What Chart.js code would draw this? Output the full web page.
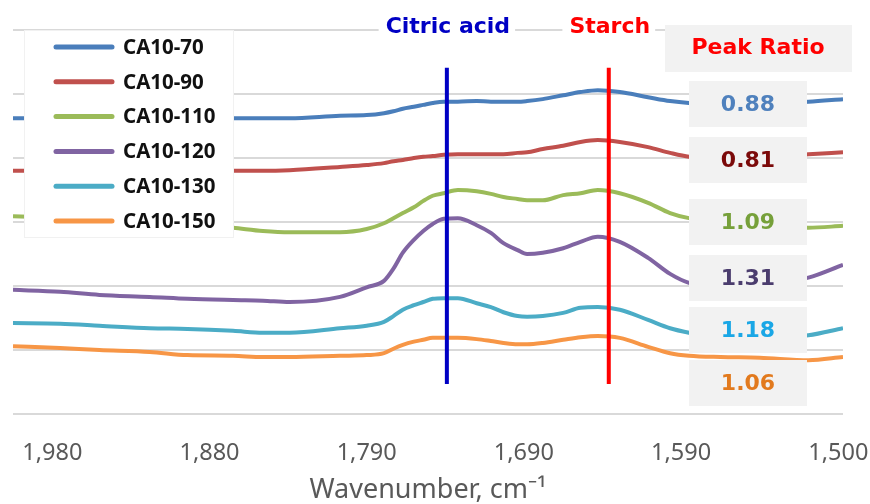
<!DOCTYPE html>
<html>
<head>
<meta charset="utf-8">
<script src="https://cdn.jsdelivr.net/npm/chart.js@4.4.0/dist/chart.umd.min.js"></script>
<style>
	html, body { margin: 0; padding: 0; background: #fff; }
	canvas { display: block; }
</style>
</head>
<body>
<canvas id="myChart" width="870" height="504"></canvas>
<script>
// x positions in tick units (0 = first labelled tick, 1 = next one ...)
let xTickLabels = ['1,980', '1,880', '1,790', '1,690', '1,590', '1,500']
let xPos = [-0.25, 0.05, 0.3, 0.62, 0.86, 1.15, 1.34, 1.51, 1.83, 2.0, 2.11, 2.17, 2.23, 2.3, 2.36, 2.42, 2.49, 2.58, 2.7, 2.79, 2.87, 2.96, 3.02, 3.12, 3.25, 3.36, 3.47, 3.61, 3.79, 3.93, 4.05, 4.25, 4.5, 4.81, 5.03]

let seriesNames = ['CA10-70', 'CA10-90', 'CA10-110', 'CA10-120', 'CA10-130', 'CA10-150']
let seriesColors = ['#4a7ebb', '#c0504d', '#9bbb59', '#8064a2', '#4bacc6', '#f79646']

let ca70 = [4.62, 4.62, 4.62, 4.62, 4.62, 4.62, 4.62, 4.62, 4.66, 4.67, 4.70, 4.73, 4.77, 4.80, 4.83, 4.86, 4.88, 4.88, 4.89, 4.88, 4.88, 4.88, 4.89, 4.92, 4.98, 5.03, 5.06, 5.03, 4.95, 4.89, 4.86, 4.84, 4.86, 4.88, 4.92]
let ca90 = [3.80, 3.80, 3.80, 3.80, 3.80, 3.80, 3.80, 3.81, 3.86, 3.89, 3.92, 3.95, 3.97, 4.00, 4.02, 4.03, 4.05, 4.06, 4.06, 4.06, 4.06, 4.08, 4.09, 4.14, 4.19, 4.25, 4.28, 4.25, 4.17, 4.08, 4.02, 4.00, 4.02, 4.06, 4.09]
let ca110 = [3.09, 3.06, 3.03, 3.00, 2.97, 2.91, 2.86, 2.84, 2.84, 2.89, 2.98, 3.06, 3.14, 3.23, 3.33, 3.41, 3.45, 3.50, 3.48, 3.44, 3.39, 3.36, 3.34, 3.34, 3.42, 3.45, 3.50, 3.45, 3.30, 3.14, 3.06, 3.00, 2.94, 2.91, 2.94]
let ca120 = [1.94, 1.91, 1.86, 1.83, 1.80, 1.78, 1.77, 1.75, 1.83, 1.98, 2.08, 2.27, 2.52, 2.72, 2.86, 2.97, 3.05, 3.06, 2.95, 2.83, 2.67, 2.56, 2.50, 2.52, 2.59, 2.69, 2.77, 2.69, 2.44, 2.19, 2.05, 1.98, 2.02, 2.13, 2.33]
let ca130 = [1.42, 1.41, 1.38, 1.34, 1.33, 1.30, 1.27, 1.27, 1.34, 1.38, 1.44, 1.53, 1.63, 1.70, 1.75, 1.80, 1.81, 1.81, 1.73, 1.67, 1.59, 1.53, 1.52, 1.53, 1.58, 1.66, 1.67, 1.63, 1.47, 1.34, 1.27, 1.19, 1.19, 1.23, 1.34]
let ca150 = [1.06, 1.03, 1.00, 0.97, 0.92, 0.91, 0.89, 0.89, 0.91, 0.92, 0.95, 1.02, 1.08, 1.13, 1.16, 1.19, 1.19, 1.19, 1.17, 1.14, 1.11, 1.09, 1.09, 1.11, 1.16, 1.20, 1.22, 1.19, 1.05, 0.95, 0.91, 0.89, 0.88, 0.84, 0.89]

let peakRatios = ['0.88', '0.81', '1.09', '1.31', '1.18', '1.06']
let ratioColors = ['#4f81bd', '#7b0a0a', '#76a03a', '#4b3d6e', '#1aa7e6', '#e27a1e']

let markerNames = ['Citric acid', 'Starch']
let markerPos = [2.51, 3.54]
let markerColors = ['#0000c4', '#ff0000']

let allSeries = [ca70, ca90, ca110, ca120, ca130, ca150]

Chart.defaults.font.family = "'Noto Sans', sans-serif"

let boldFont = "'DejaVu Sans', sans-serif"

let overlay = {
	id: 'overlay',
	afterDatasetsDraw(chart) {
		let ctx = chart.ctx
		let xs = chart.scales.x
		let ys = chart.scales.y
		ctx.save()

		// legend box over the plot
		ctx.fillStyle = '#ffffff'
		ctx.fillRect(24, 30, 209, 207)
		ctx.strokeStyle = '#f1f1f1'
		ctx.lineWidth = 1
		ctx.strokeRect(24.5, 30.5, 209, 207)
		ctx.lineCap = 'round'
		ctx.textBaseline = 'middle'
		ctx.textAlign = 'left'
		ctx.font = "bold 20.5px 'Noto Sans', sans-serif"
		chart.data.datasets.forEach((ds, i) => {
			let y = 47 + i * 34.8
			ctx.strokeStyle = ds.borderColor
			ctx.lineWidth = 5
			ctx.beginPath()
			ctx.moveTo(56, y)
			ctx.lineTo(112, y)
			ctx.stroke()
			ctx.fillStyle = '#111'
			ctx.fillText(ds.label, 123, y + 1)
		})

		// marker lines + titles
		ctx.lineCap = 'butt'
		ctx.textAlign = 'center'
		markerPos.forEach((p, i) => {
			let x = xs.getPixelForValue(p)
			ctx.strokeStyle = markerColors[i]
			ctx.lineWidth = 4
			ctx.beginPath()
			ctx.moveTo(x, ys.getPixelForValue(5.41))
			ctx.lineTo(x, ys.getPixelForValue(0.47))
			ctx.stroke()
			ctx.font = 'bold 22px ' + boldFont
			let w = ctx.measureText(markerNames[i]).width
			ctx.fillStyle = '#fff'
			ctx.fillRect(x - w / 2 - 6, 14, w + 12, 28)
			ctx.fillStyle = markerColors[i]
			ctx.fillText(markerNames[i], x + 1, 27)
		})

		// peak ratio header
		ctx.fillStyle = '#f2f2f2'
		ctx.fillRect(665, 25, 187, 47)
		ctx.fillStyle = '#ff0000'
		ctx.font = 'bold 22px ' + boldFont
		ctx.fillText('Peak Ratio', 758, 48)

		// ratio boxes
		let centers = [104, 160, 222, 278, 330, 383]
		ctx.font = 'bold 22px ' + boldFont
		peakRatios.forEach((r, i) => {
			ctx.fillStyle = '#f2f2f2'
			ctx.fillRect(689, centers[i] - 23, 118, 46)
			ctx.fillStyle = ratioColors[i]
			ctx.fillText(r, 748, centers[i] + 1)
		})
		ctx.restore()
	},
}

let ctx = document.getElementById('myChart').getContext('2d')
let myChart = new Chart(ctx, {
	type: 'line',
	data: {
		datasets: seriesNames.map((name, i) => ({
			label: name,
			data: xPos.map((x, j) => ({ x: x, y: allSeries[i][j] })),
			borderColor: seriesColors[i],
			borderWidth: 4,
			pointRadius: 0,
			cubicInterpolationMode: 'monotone',
		})),
	},
	options: {
		responsive: false,
		animation: false,
		layout: { padding: { left: 13, right: 27, top: 30, bottom: 0 } },
		plugins: {
			legend: { display: false },
			tooltip: { enabled: false },
		},
		scales: {
			x: {
				type: 'linear',
				min: -0.25,
				max: 5.03,
				afterBuildTicks: (axis) => {
					axis.ticks = xTickLabels.map((l, i) => ({ value: i }))
				},
				afterFit: (axis) => {
					axis.height = 90
					axis.paddingLeft = 0
					axis.paddingRight = 0
				},
				grid: { display: false, drawTicks: false },
				border: { display: false },
				ticks: {
					padding: 25,
					color: '#595959',
					font: { size: 23.5 },
					maxRotation: 0,
					autoSkip: false,
					callback: (v) => xTickLabels[v],
				},
				title: {
					display: true,
					text: 'Wavenumber, cm\u207b\u00b9',
					color: '#595959',
					font: { size: 27, lineHeight: 1.05 },
					padding: { top: 13, bottom: 0 },
				},
			},
			y: {
				min: 0,
				max: 6,
				ticks: { display: false, stepSize: 1 },
				grid: { color: '#d9d9d9', lineWidth: 2, drawTicks: false },
				border: { display: false },
			},
		},
	},
	plugins: [overlay],
})
</script>
</body>
</html>
